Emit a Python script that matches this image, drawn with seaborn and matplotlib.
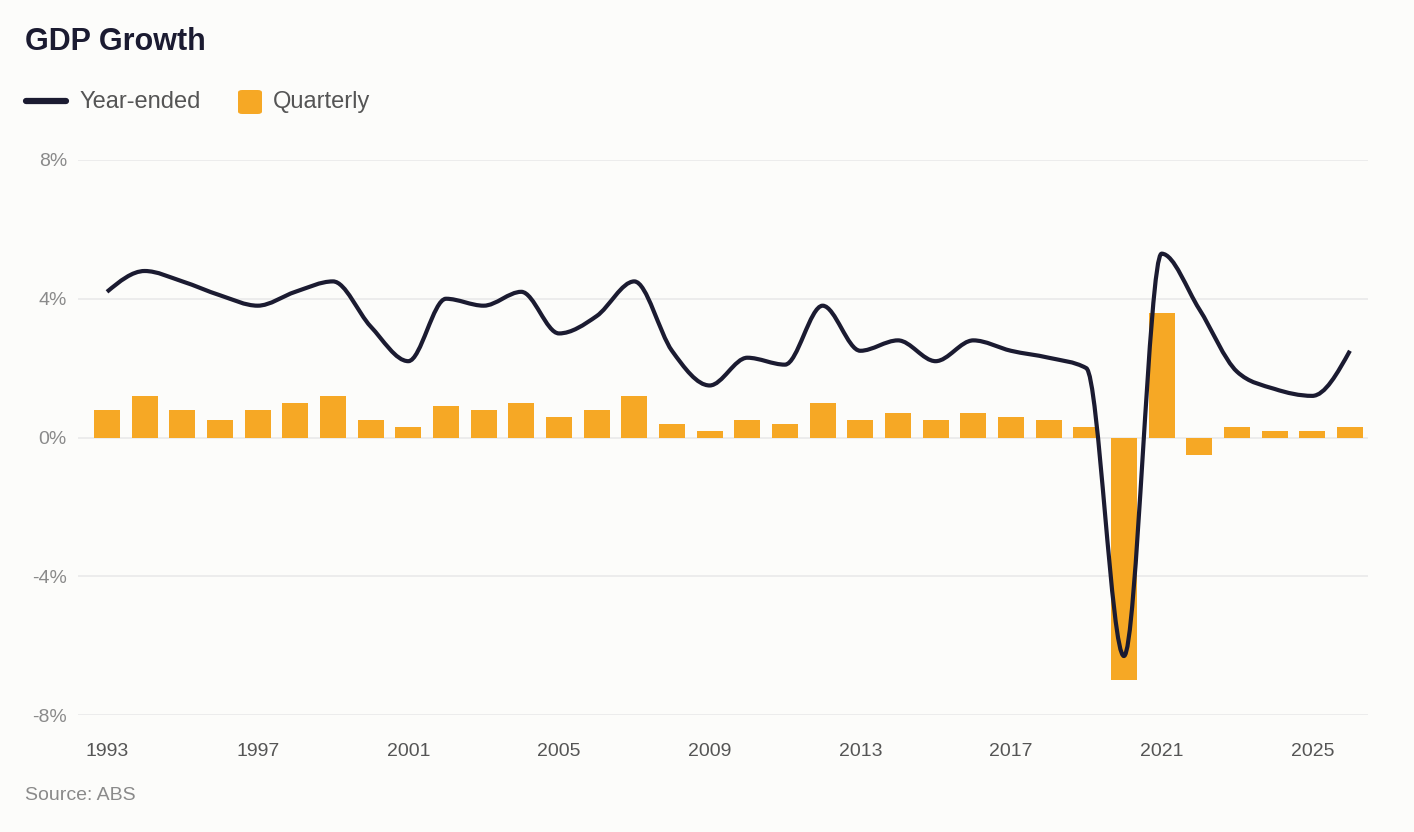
import numpy as np
import pandas as pd
import seaborn as sns
from matplotlib import pyplot as plt
from matplotlib.path import Path
from matplotlib.patches import PathPatch, FancyBboxPatch
from matplotlib.lines import Line2D

# Chart data
years = list(range(1993, 2027))
quarterly = [0.8, 1.2, 0.8, 0.5, 0.8, 1.0, 1.2, 0.5, 0.3, 0.9,
             0.8, 1.0, 0.6, 0.8, 1.2, 0.4, 0.2, 0.5, 0.4, 1.0,
             0.5, 0.7, 0.5, 0.7, 0.6, 0.5, 0.3, -7.0, 3.6, -0.5,
             0.3, 0.2, 0.2, 0.3]
year_ended = [4.2, 4.8, 4.5, 4.1, 3.8, 4.2, 4.5, 3.2, 2.2, 4.0,
              3.8, 4.2, 3.0, 3.5, 4.5, 2.5, 1.5, 2.3, 2.1, 3.8,
              2.5, 2.8, 2.2, 2.8, 2.5, 2.3, 2.0, -6.3, 5.3, 3.7,
              1.9, 1.4, 1.2, 2.5]
y_ticks = [-8, -4, 0, 4, 8]
x_ticks = list(range(1993, 2027, 4))

BG = '#fcfcfa'
NAVY = '#1b1b31'
ORANGE = '#f6a825'
GRID = '#ebebeb'


def monotone_path(x, y):
    """Builds a monotone cubic (d3 curveMonotoneX style) bezier path."""
    x = np.asarray(x, dtype=float)
    y = np.asarray(y, dtype=float)
    h = np.diff(x)
    s = np.diff(y) / h
    t = np.zeros(len(x))
    for i in range(1, len(x) - 1):
        p = (s[i - 1] * h[i] + s[i] * h[i - 1]) / (h[i - 1] + h[i])
        t[i] = (np.sign(s[i - 1]) + np.sign(s[i])) * min(abs(s[i - 1]), abs(s[i]), 0.5 * abs(p))
    t[0] = (3 * s[0] - t[1]) / 2
    t[-1] = (3 * s[-1] - t[-2]) / 2

    verts = [(x[0], y[0])]
    codes = [Path.MOVETO]
    for i in range(len(x) - 1):
        dx = h[i] / 3
        verts += [(x[i] + dx, y[i] + dx * t[i]),
                  (x[i + 1] - dx, y[i + 1] - dx * t[i + 1]),
                  (x[i + 1], y[i + 1])]
        codes += [Path.CURVE4] * 3
    return Path(verts, codes)


sns.set_theme(style='white')
plt.rcParams['font.family'] = ['Liberation Sans', 'DejaVu Sans']

df = pd.DataFrame({'year': years, 'quarterly': quarterly, 'year_ended': year_ended})

fig = plt.figure(figsize=(14.14, 8.32), dpi=100, facecolor=BG)
W, H = 1414, 832
ax = fig.add_axes([78 / W, 1 - 715 / H, (1368 - 78) / W, (715 - 160) / H])
ax.set_facecolor(BG)

# Quarterly bars
sns.barplot(data=df, x='year', y='quarterly', native_scale=True, width=0.69,
            color=ORANGE, saturation=1, linewidth=0, ax=ax, zorder=2)

# Year-ended smooth line
line = PathPatch(monotone_path(df['year'], df['year_ended']), facecolor='none',
                 edgecolor=NAVY, linewidth=3, zorder=3, capstyle='butt', joinstyle='round')
ax.add_patch(line)

ax.set_xlim(1992.23, 2026.48)
ax.set_ylim(-8, 8)
ax.set_yticks(y_ticks)
ax.set_yticklabels([f'{v}%' for v in y_ticks])
ax.set_xticks(x_ticks)
ax.set_xticklabels([str(v) for v in x_ticks])
ax.set_xlabel('')
ax.set_ylabel('')
ax.grid(axis='y', color=GRID, linewidth=1.3, zorder=0)
ax.grid(axis='x', visible=False)
ax.set_axisbelow(True)
for spine in ax.spines.values():
    spine.set_visible(False)
ax.tick_params(axis='y', length=0, pad=8, labelsize=14, labelcolor='#8a8a8a')
ax.tick_params(axis='x', length=0, pad=20, labelsize=14, labelcolor='#555555')

# Title
fig.text(25 / W, 1 - 42 / H, 'GDP Growth', fontsize=22, fontweight='bold',
         color=NAVY, ha='left', va='center')

# Legend
fig.add_artist(Line2D([26 / W, 66 / W], [1 - 101 / H] * 2, color=NAVY,
                      linewidth=4.5, solid_capstyle='round'))
fig.text(80 / W, 1 - 102 / H, 'Year-ended', fontsize=17, color='#555555',
         ha='left', va='center')
fig.add_artist(FancyBboxPatch((238 / W, 1 - 114 / H), 24 / W, 24 / H,
                              boxstyle='round,pad=0,rounding_size=0.003',
                              facecolor=ORANGE, edgecolor='none',
                              transform=fig.transFigure))
fig.text(273 / W, 1 - 102 / H, 'Quarterly', fontsize=17, color='#555555',
         ha='left', va='center')

# Source note
fig.text(25 / W, 1 - 795 / H, 'Source: ABS', fontsize=14, color='#8a8a8a',
         ha='left', va='center')

fig.savefig('out.png', dpi=100, facecolor=BG)
